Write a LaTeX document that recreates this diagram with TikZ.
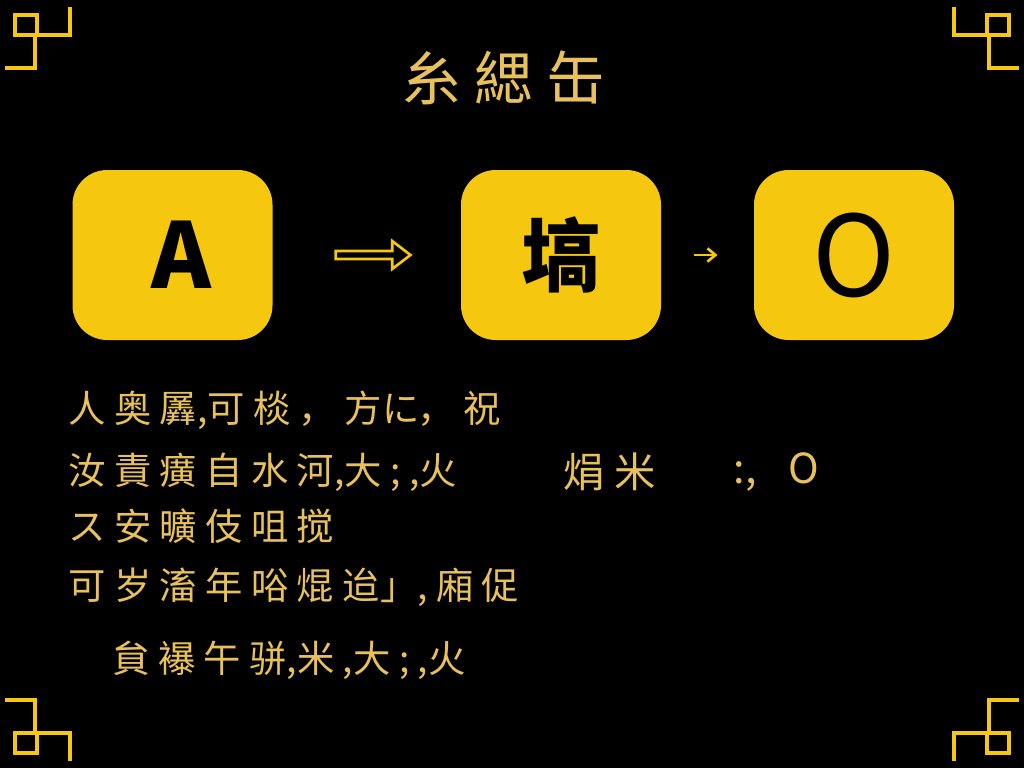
\documentclass[tikz,border=0pt]{standalone}
\usepackage{fontspec}
\newfontfamily\cjk{Noto Sans CJK SC}
\usetikzlibrary{shapes.arrows,arrows.meta}
\definecolor{gold}{HTML}{E8C15C}
\definecolor{tileyellow}{HTML}{F6C70F}
\tikzset{every picture/.style={line width=0.75pt}}

\begin{document}
\begin{tikzpicture}[x=0.75pt,y=0.75pt,yscale=-1,xscale=1,
	tile/.style={fill=tileyellow, rounded corners=26pt, minimum width=150pt, minimum height=127.5pt, inner sep=0pt, text=black},
	linetext/.style={anchor=west, inner sep=0pt, text=gold, font=\cjk\fontsize{28}{32}\selectfont},
	fret/.style={draw=tileyellow, line width=2.8pt, line join=miter}]
	
	%Background
	\fill[black] (0,0) rectangle (1024,768);
	\useasboundingbox (0,0) rectangle (1024,768);
	
	%Shape: corner frets
	\foreach \sx/\sy/\ox/\oy in {1/1/0/0, -1/1/1024/0, 1/-1/0/768, -1/-1/1024/768}
	\draw[fret, shift={(\ox,\oy)}, xscale=\sx, yscale=\sy] (70,7) -- (70,35) -- (37,35) -- (37,15) -- (15,15) -- (15,35) -- (35,35) -- (35,68) -- (5,68) ;
	
	% Title
	\node[inner sep=0pt, text=gold, font=\cjk\fontsize{44}{48}\selectfont] (title) at (504,78) {糸 緦 缶};
	
	%Shape: tiles
	\node[tile, font=\cjk\bfseries\fontsize{68}{70}\selectfont] (tilea) at (172.5,255) {\hspace*{14pt}A};
	\node[tile, font=\cjk\bfseries\fontsize{60}{64}\selectfont] (tileb) at (561,255) {塙};
	\node[tile, font=\cjk\fontsize{84}{86}\selectfont] (tilec) at (854,255) {O};
	
	%Arrows
	\path (tilea.east) -- (tileb.west) node[pos=0.52, single arrow, draw=tileyellow, line width=2pt, minimum height=56pt, minimum width=21pt, single arrow head extend=5pt, single arrow tip angle=75, inner sep=1pt] (arrowab) {};
	\draw[tileyellow, line width=2pt, -{Straight Barb[length=6pt,width=10pt]}, shorten <=24pt, shorten >=27pt] (tileb.east) -- (tilec.west) ;
	
	% Text Node
	\node[linetext] (linea) at (68,410) {人 奥 羼,可 棪 ， 方に， 祝};
	% Text Node
	\node[linetext] (lineb) at (68,472) {汝 責 癀 自 水 河,大 ; ,火};
	% Text Node
	\node[linetext, font=\cjk\fontsize{31}{34}\selectfont] (linebr) at (563,472) {焆 米};
	% Text Node
	\node[linetext, font=\cjk\fontsize{31}{34}\selectfont] (linebo) at (733,472) {:,\hspace{24pt}O};
	% Text Node
	\node[linetext] (linec) at (68,526) {ス 安 曠 伎 咀 搅};
	% Text Node
	\node[linetext] (lined) at (68,587) {可 岁 滀 年 唂 焜 迨」, 廂 促};
	% Text Node
	\node[linetext] (linee) at (112,660) {貟 襮 午 骈,米 ,大 ; ,火};
	
\end{tikzpicture}
\end{document}
